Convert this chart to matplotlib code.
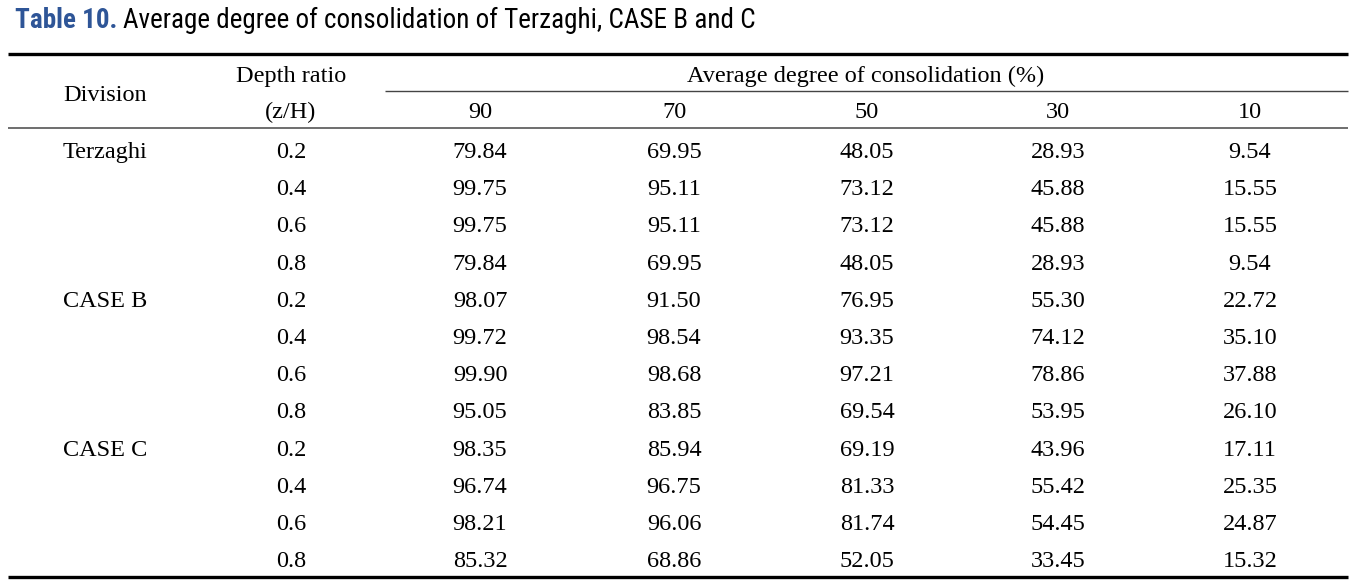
"""
Table 10 re-drawn as a matplotlib figure: average degree of consolidation
for Terzaghi, CASE B and CASE C at four depth ratios.
"""
import matplotlib
matplotlib.use("Agg")
import matplotlib.pyplot as plt

TITLE_LABEL = "Table 10."
TITLE_TEXT = "Average degree of consolidation of Terzaghi, CASE B and C"

divisions = ["Terzaghi", "CASE B", "CASE C"]
depth_ratios = ["0.2", "0.4", "0.6", "0.8"]
degree_cols = ["90", "70", "50", "30", "10"]

terzaghi = [
    [79.84, 69.95, 48.05, 28.93, 9.54],
    [99.75, 95.11, 73.12, 45.88, 15.55],
    [99.75, 95.11, 73.12, 45.88, 15.55],
    [79.84, 69.95, 48.05, 28.93, 9.54],
]
case_b = [
    [98.07, 91.50, 76.95, 55.30, 22.72],
    [99.72, 98.54, 93.35, 74.12, 35.10],
    [99.90, 98.68, 97.21, 78.86, 37.88],
    [95.05, 83.85, 69.54, 53.95, 26.10],
]
case_c = [
    [98.35, 85.94, 69.19, 43.96, 17.11],
    [96.74, 96.75, 81.33, 55.42, 25.35],
    [98.21, 96.06, 81.74, 54.45, 24.87],
    [85.32, 68.86, 52.05, 33.45, 15.32],
]

W, H = 1367, 581
SERIF = ["Liberation Serif", "DejaVu Serif"]
SANS = ["Roboto Condensed", "Open Sans", "DejaVu Sans"]
BLUE = "#2e5597"

fig = plt.figure(figsize=(W / 100, H / 100), dpi=100)
ax = fig.add_axes([0, 0, 1, 1])
ax.set_xlim(0, W)
ax.set_ylim(H, 0)
ax.axis("off")

# title -- blue label then black caption on one baseline
t1 = ax.text(15, 28, TITLE_LABEL, family=SANS, fontsize=19.5, color=BLUE,
             fontweight="bold", va="baseline", ha="left")
fig.canvas.draw()
bb = t1.get_window_extent()
ax.text(15 + bb.width + 6, 28, TITLE_TEXT, family=SANS, fontsize=19.5,
        color="black", va="baseline", ha="left")

# rules
x0, x1 = 8, 1348
ax.plot([x0, x1], [54, 54], color="black", lw=2.4, solid_capstyle="butt")
ax.plot([385, x1], [91, 91], color="#444444", lw=1.0, solid_capstyle="butt")
ax.plot([x0, x1], [128, 128], color="#555555", lw=1.2, solid_capstyle="butt")
ax.plot([x0, x1], [577, 577], color="black", lw=2.4, solid_capstyle="butt")

fs = 17.5
div_x, depth_x = 105, 291
col_x = [480, 674, 867, 1058, 1250]

def cell(x, y, s):
    ax.text(x, y, s, family=SERIF, fontsize=fs, ha="center", va="baseline")

# header
cell(div_x, 101, "Division")
cell(depth_x, 82, "Depth ratio")
cell(depth_x, 118, "(z/H)")
cell(866, 82, "Average degree of consolidation (%)")
for x, lab in zip(col_x, degree_cols):
    cell(x, 118, lab)

# body
y_first, row_h = 158, 37.2
row = 0
for name, block in zip(divisions, [terzaghi, case_b, case_c]):
    for k, (dr, vals) in enumerate(zip(depth_ratios, block)):
        y = y_first + row * row_h
        if k == 0:
            cell(div_x, y, name)
        cell(depth_x, y, dr)
        for x, v in zip(col_x, vals):
            cell(x, y, f"{v:.2f}")
        row += 1

fig.savefig("out.png", dpi=100)
